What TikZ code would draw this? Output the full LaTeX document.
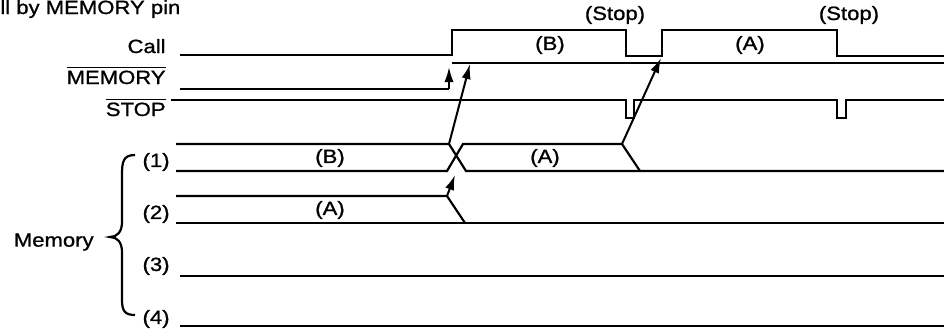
\documentclass[tikz,border=0pt]{standalone}
\usepackage{fontspec}
\setmainfont{Liberation Sans}[FakeStretch=1.15,FakeBold=1]
\usetikzlibrary{arrows.meta}
\tikzset{
	sig/.style={line width=1.1pt},
	lbl/.style={inner sep=0pt, font=\fontsize{9.6}{10}\selectfont},
	trig/.style={line width=1pt, -{Latex[length=7.5pt,width=4.6pt]}}
}
\newcommand{\ovl}[1]{$\overline{\mbox{#1}}$}
\begin{document}
\begin{tikzpicture}[x=0.5pt,y=-0.5pt]
	\useasboundingbox (0,0) rectangle (944,328);
	\node[lbl,anchor=base west] (title) at (0,14) {ll by MEMORY pin};
	\node[lbl,anchor=base east] (call) at (166,53) {Call};
	\node[lbl,anchor=base east] (memory) at (166,84) {\ovl{MEMORY}};
	\node[lbl,anchor=base east] (stop) at (166,116) {\ovl{STOP}};
	\node[lbl,anchor=east] (m1) at (170,162) {(1)};
	\node[lbl,anchor=east] (m2) at (170,214) {(2)};
	\node[lbl,anchor=east] (m3) at (170,266) {(3)};
	\node[lbl,anchor=east] (m4) at (170,319) {(4)};
	\node[lbl,anchor=east] (mem) at (94,242) {Memory};
	\draw[sig] (135,155) .. controls (123,155) and (122,162) .. (122,175) -- (122,222)
		.. controls (122,232) and (117,237) .. (110,237)
		.. controls (117,237) and (122,242) .. (122,252) -- (122,300)
		.. controls (122,311) and (125,315) .. (135,315);
	% Call
	\draw[sig] (180,55) -- (452,55) -- (452,30) -- (626,30) -- (626,56) -- (662,56)
		-- (662,30) -- (837,30) -- (837,56) -- (944,56);
	\node[lbl] (callb) at (550,45) {(B)};
	\node[lbl] (calla) at (750,45) {(A)};
	\node[lbl] (stop1) at (615,15) {(Stop)};
	\node[lbl] (stop2) at (849,15) {(Stop)};
	% MEMORY
	\draw[sig] (180,89) -- coordinate[pos=1] (memlo) (449,89);
	\coordinate (memhi) at (449,67);
	\draw[sig] (452,63) -- (944,63);
	% STOP
	\draw[sig] (171,100) -- (626,100) -- (626,118) -- (634,118) -- (634,100) -- (837,100)
		-- (837,118) -- (846,118) -- (846,100) -- (944,100);
	% memory rows
	\draw[sig] (176,144) -- (449,144) -- (466,171) -- (944,171);
	\draw[sig] (176,171) -- (447,171) -- (463,144) -- (622,144) -- (640,171);
	\node[lbl] (r1b) at (330,158) {(B)};
	\node[lbl] (r1a) at (545,158) {(A)};
	\draw[sig] (176,196) -- (447,196) -- (465,223);
	\draw[sig] (176,223) -- (944,223);
	\node[lbl] (r2a) at (330,210) {(A)};
	\draw[sig] (180,276) -- (944,276);
	\draw[sig] (180,326) -- (944,326);
	% triggers
	\coordinate (x1) at (449,144);
	\coordinate (t1) at (470,64);
	\coordinate (x2) at (447,196);
	\coordinate (t2) at (455,175);
	\coordinate (x3) at (622,144);
	\coordinate (t3) at (661,58);
	\draw[trig] (memlo) -- (memhi);
	\draw[trig] (x1) -- (t1);
	\draw[trig] (x2) -- (t2);
	\draw[trig] (x3) -- (t3);
\end{tikzpicture}
\end{document}
